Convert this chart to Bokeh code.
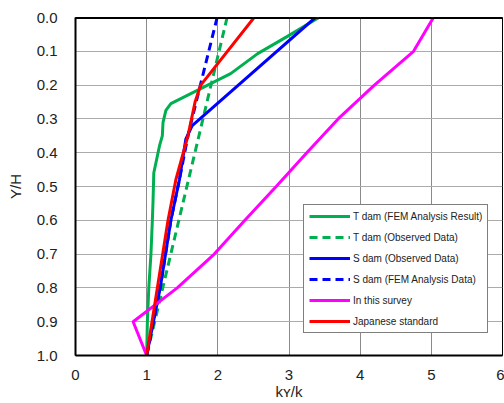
from bokeh.plotting import figure
from bokeh.models import (Range1d, FixedTicker, PrintfTickFormatter, Legend,
                          LegendItem, Span)
from bokeh.embed import file_html
from bokeh.resources import INLINE

# Height ratio Y/H (0 = crest, 1 = base) and seismic coefficient ratio kY/k
t_fem_y = [0.0, 0.058, 0.107, 0.166, 0.255, 0.275, 0.31, 0.35, 0.38, 0.46, 0.54, 0.6, 0.7, 0.8, 0.9, 1.0]
t_fem_x = [3.42, 2.96, 2.56, 2.18, 1.34, 1.27, 1.23, 1.22, 1.18, 1.10, 1.09, 1.08, 1.06, 1.03, 1.01, 1.0]

t_obs_y = [0.0, 1.0]
t_obs_x = [2.13, 1.0]

s_obs_y = [0.0, 0.32, 0.36, 0.48, 0.6, 0.8, 1.0]
s_obs_x = [3.37, 1.64, 1.55, 1.46, 1.34, 1.19, 1.0]

s_fem_y = [0.0, 0.34, 0.48, 0.6, 0.8, 1.0]
s_fem_x = [1.99, 1.59, 1.46, 1.34, 1.19, 1.0]

survey_y = [0.0, 0.1, 0.2, 0.3, 0.4, 0.5, 0.6, 0.7, 0.8, 0.9, 1.0]
survey_x = [5.03, 4.75, 4.2, 3.69, 3.25, 2.82, 2.38, 1.95, 1.43, 0.81, 1.0]

jp_y = [0.0, 0.2, 0.25, 0.35, 0.48, 0.6, 0.8, 1.0]
jp_x = [2.51, 1.76, 1.68, 1.58, 1.41, 1.30, 1.15, 1.0]

x_ticks = [0, 1, 2, 3, 4, 5, 6]
y_ticks = [0.0, 0.1, 0.2, 0.3, 0.4, 0.5, 0.6, 0.7, 0.8, 0.9, 1.0]

GREEN = "#00b050"
BLUE = "#0000ff"
MAGENTA = "#ff00ff"
RED = "#ff0000"
FONT = "Liberation Sans"
TEXT = "#222222"

p = figure(width=504, height=403, output_backend="svg", toolbar_location=None,
           x_range=Range1d(0, 6), y_range=Range1d(1.0, 0.0),
           min_border_left=75, min_border_right=2, min_border_top=17,
           min_border_bottom=48)
p.outline_line_color = "black"
p.outline_line_width = 1

for ax in (p.xaxis[0], p.yaxis[0]):
    ax.major_tick_in = 0
    ax.major_tick_out = 0
    ax.minor_tick_in = 0
    ax.minor_tick_out = 0
    ax.axis_line_color = "black"
    ax.axis_line_width = 2
    ax.major_label_text_font = FONT
    ax.major_label_text_font_size = "15px"
    ax.major_label_text_color = TEXT
    ax.axis_label_text_font = FONT
    ax.axis_label_text_font_size = "15px"
    ax.axis_label_text_font_style = "normal"
    ax.axis_label_text_color = TEXT

p.xaxis.ticker = FixedTicker(ticks=x_ticks)
p.xaxis.major_label_standoff = 14
p.xaxis.axis_label = "k\u028f/k"
p.xaxis.axis_label_standoff = 0

p.yaxis.ticker = FixedTicker(ticks=y_ticks)
p.yaxis.formatter = PrintfTickFormatter(format="%.1f")
p.yaxis.major_label_standoff = 18
p.yaxis.axis_label = "Y/H"
p.yaxis.axis_label_standoff = 10

p.xgrid.grid_line_color = "#8a8a8a"
p.ygrid.grid_line_color = "#ababab"
p.xgrid.grid_line_width = 1
p.ygrid.grid_line_width = 1

# thick top border of the frame
p.add_layout(Span(location=0.0, dimension="width", line_color="black", line_width=3))

r1 = p.line(t_fem_x, t_fem_y, line_color=GREEN, line_width=3)
r2 = p.line(t_obs_x, t_obs_y, line_color=GREEN, line_width=3, line_dash="8 5")
r3 = p.line(s_obs_x, s_obs_y, line_color=BLUE, line_width=3)
r4 = p.line(s_fem_x, s_fem_y, line_color=BLUE, line_width=3, line_dash="8 5")
r5 = p.line(survey_x, survey_y, line_color=MAGENTA, line_width=3)
r6 = p.line(jp_x, jp_y, line_color=RED, line_width=3)

legend = Legend(items=[
    LegendItem(label="T dam (FEM Analysis Result)", renderers=[r1]),
    LegendItem(label="T dam (Observed Data)", renderers=[r2]),
    LegendItem(label="S dam (Observed Data)", renderers=[r3]),
    LegendItem(label="S dam (FEM Analysis Data)", renderers=[r4]),
    LegendItem(label="In this survey", renderers=[r5]),
    LegendItem(label="Japanese standard", renderers=[r6]),
], location=(228, 22))
legend.label_text_font = FONT
legend.label_text_font_size = "10px"
legend.label_text_color = TEXT
legend.glyph_width = 41
legend.glyph_height = 12
legend.label_height = 12
legend.spacing = 9
legend.padding = 5
legend.margin = 0
legend.label_standoff = 3
legend.border_line_color = "black"
legend.border_line_width = 1
legend.background_fill_alpha = 1.0
p.add_layout(legend)

open("out.html", "w").write(file_html(p, INLINE))
